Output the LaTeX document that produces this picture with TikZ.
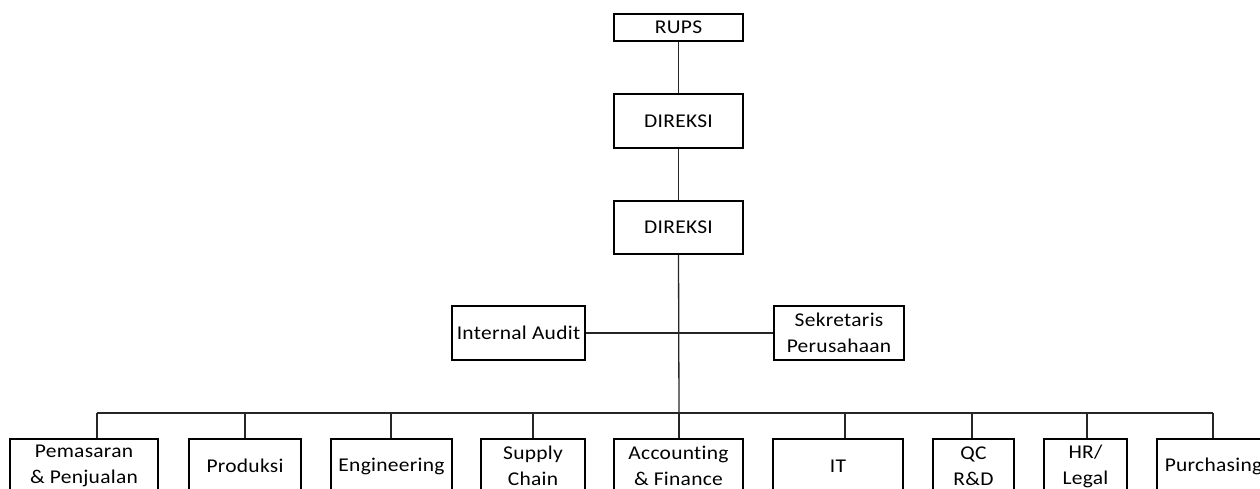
\documentclass[tikz,border=0pt]{standalone}
\usepackage{fontspec}
\setmainfont{Carlito}[FakeStretch=1.1,Ligatures=NoCommon,LetterSpace=1.5]
\begin{document}
\begin{tikzpicture}[x=1pt,y=-1pt,
  box/.style={draw=black,line width=1.3pt,fill=white,inner sep=0pt,align=center,
    font=\fontsize{19.5}{26}\selectfont,text=black},
  link/.style={draw=black!85,line width=1.3pt}]
\useasboundingbox (0,0) rectangle (1260,489);
\clip (0,0) rectangle (1260,489);
% top chain
\node[box,minimum width=129pt,minimum height=27pt] (rups) at (678.5,27.5) {RUPS};
\node[box,minimum width=129pt,minimum height=54pt] (dir1) at (678.5,121) {DIREKSI};
\node[box,minimum width=129pt,minimum height=53pt] (dir2) at (678.5,227.5) {DIREKSI};
\node[box,minimum width=133pt,minimum height=54pt] (ia) at (518.5,333) {Internal Audit};
\node[box,minimum width=130pt,minimum height=54pt] (sek) at (839,333) {Sekretaris\\Perusahaan};
% bottom row
\node[box,minimum width=148pt,minimum height=54pt] (pem) at (84,466) {Pemasaran\\\& Penjualan};
\node[box,minimum width=112pt,minimum height=54pt] (prod) at (245,466) {Produksi};
\node[box,minimum width=121pt,minimum height=54pt] (eng) at (391.5,466) {Engineering};
\node[box,minimum width=104pt,minimum height=54pt] (sc) at (533,466) {Supply\\Chain};
\node[box,minimum width=129pt,minimum height=54pt] (acc) at (678.5,466) {Accounting\\\& Finance};
\node[box,minimum width=130pt,minimum height=54pt] (it) at (838,466) {IT};
\node[box,minimum width=81pt,minimum height=54pt] (qc) at (973.5,466) {QC\\R\&D};
\node[box,minimum width=83pt,minimum height=54pt] (hr) at (1085.5,466) {HR/\\Legal};
\node[box,minimum width=113pt,minimum height=54pt] (pur) at (1213.5,466) {Purchasing};
% bus coordinates
\coordinate (bL) at (97,413);
\coordinate (bR) at (1213,413);
\coordinate (bC) at (679,413);
\coordinate (d1) at (97,413);
\coordinate (d2) at (245,413);
\coordinate (d3) at (391,413);
\coordinate (d4) at (533,413);
\coordinate (d5) at (679,413);
\coordinate (d6) at (845,413);
\coordinate (d7) at (972,413);
\coordinate (d8) at (1087,413);
\coordinate (d9) at (1213,413);
% connectors
\draw[link] (rups) -- (dir1);
\draw[link] (dir1) -- (dir2);
\draw[link] (dir2.south) -- (bC);
\draw[link] (ia.east) -- (sek.west);
\draw[link] (bL) -- (bR);
\draw[link] (d1) -- (d1 |- pem.north);
\draw[link] (d2) -- (d2 |- prod.north);
\draw[link] (d3) -- (d3 |- eng.north);
\draw[link] (d4) -- (d4 |- sc.north);
\draw[link] (d5) -- (d5 |- acc.north);
\draw[link] (d6) -- (d6 |- it.north);
\draw[link] (d7) -- (d7 |- qc.north);
\draw[link] (d8) -- (d8 |- hr.north);
\draw[link] (d9) -- (d9 |- pur.north);
\end{tikzpicture}
\end{document}
